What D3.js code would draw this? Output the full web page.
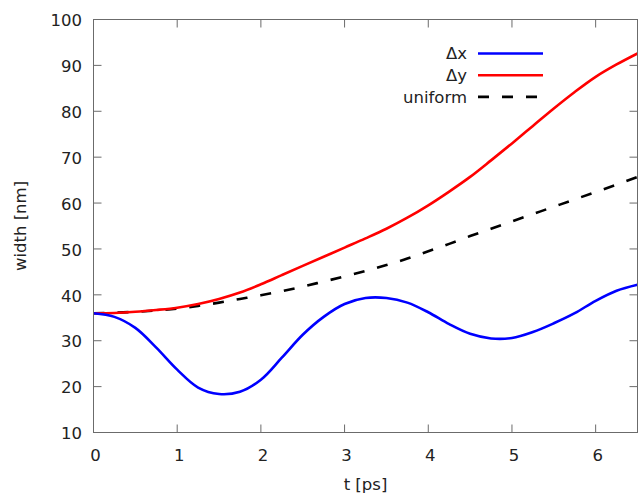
<!DOCTYPE html>
<html>
<head>
<meta charset="utf-8">
<script src="https://cdn.jsdelivr.net/npm/d3@7"></script>
<style>
  body { margin: 0; background: #fff; }
  text { font-family: "DejaVu Sans", sans-serif; fill: #222; }
</style>
</head>
<body>
<div id="chart"></div>
<script>
var margin = { top: 19.5, right: 3.5, bottom: 62.5, left: 93.5 };
var width = 641, height = 495;

// time axis (ps)
var times = [0, 0.25, 0.5, 0.75, 1, 1.25, 1.5, 1.75, 2, 2.25, 2.5, 2.75, 3, 3.25,
             3.5, 3.75, 4, 4.25, 4.5, 4.75, 5, 5.25, 5.5, 5.75, 6, 6.25, 6.5];
var dx = [36.0, 35.2, 32.8, 28.5, 23.7, 19.8, 18.4, 18.9, 21.5, 26.3, 31.3, 35.2, 38.0, 39.3,
          39.3, 38.3, 36.2, 33.6, 31.5, 30.5, 30.6, 31.9, 33.8, 36.0, 38.7, 40.9, 42.2];
var dy = [36.0, 36.05, 36.3, 36.7, 37.2, 38.0, 39.1, 40.5, 42.3, 44.3, 46.3, 48.3, 50.3, 52.3,
          54.4, 56.8, 59.5, 62.5, 65.7, 69.3, 73.0, 76.8, 80.6, 84.2, 87.5, 90.2, 92.6];
var uniform = [36.0, 36.1, 36.3, 36.6, 37.0, 37.6, 38.3, 39.1, 39.9, 40.8, 41.8, 42.9, 44.0, 45.2,
               46.5, 47.9, 49.5, 51.1, 52.8, 54.4, 56.0, 57.6, 59.2, 60.8, 62.4, 64.0, 65.7];

var xTicks = [0, 1, 2, 3, 4, 5, 6];
var yTicks = [10, 20, 30, 40, 50, 60, 70, 80, 90, 100];

var series = [
    { name: "\u0394x", values: dx, color: "#0000ff", dash: null },
    { name: "\u0394y", values: dy, color: "#ff0000", dash: null },
    { name: "uniform", values: uniform, color: "#000000", dash: "11,13" }
];

var svg = d3.select("#chart").append("svg")
    .attr("width", width)
    .attr("height", height);

var x = d3.scaleLinear().domain([0, 6.5]).range([margin.left, width - margin.right]);
var y = d3.scaleLinear().domain([10, 100]).range([height - margin.bottom, margin.top]);

var axisColor = "#6b6b6b";
var tickLen = 8;

svg.append("defs").append("clipPath").attr("id", "clip")
  .append("rect")
    .attr("x", x(0)).attr("y", y(100))
    .attr("width", x(6.5) - x(0)).attr("height", y(10) - y(100));

// ticks, mirrored on all sides (inward)
svg.selectAll(".xtick")
    .data(xTicks)
    .enter().append("path")
    .attr("d", function(d) {
        return "M" + x(d) + "," + y(10) + "v" + (-tickLen) +
               "M" + x(d) + "," + y(100) + "v" + tickLen;
    })
    .attr("stroke", axisColor).attr("stroke-width", 1).attr("fill", "none");

svg.selectAll(".ytick")
    .data(yTicks)
    .enter().append("path")
    .attr("d", function(d) {
        return "M" + x(0) + "," + y(d) + "h" + tickLen +
               "M" + x(6.5) + "," + y(d) + "h" + (-tickLen);
    })
    .attr("stroke", axisColor).attr("stroke-width", 1).attr("fill", "none");

svg.selectAll(".xlabel")
    .data(xTicks)
    .enter().append("text")
    .attr("x", function(d) { return x(d) + 2; })
    .attr("y", 460.5)
    .attr("text-anchor", "middle")
    .style("font-size", "16.5px")
    .text(function(d) { return d; });

svg.selectAll(".ylabel")
    .data(yTicks)
    .enter().append("text")
    .attr("x", 82)
    .attr("y", function(d) { return y(d) + 1; })
    .attr("dy", "0.35em")
    .attr("text-anchor", "end")
    .style("font-size", "16.5px")
    .text(function(d) { return d; });

// curves
var line = d3.line()
    .x(function(d, i) { return x(times[i]); })
    .y(function(d) { return y(d); })
    .curve(d3.curveCatmullRom);

var plot = svg.append("g").attr("clip-path", "url(#clip)");

// uniform first so the solid curves sit on top of it
[series[2], series[1], series[0]].forEach(function(s) {
    plot.append("path")
        .datum(s.values)
        .attr("d", line)
        .attr("fill", "none")
        .attr("stroke", s.color)
        .attr("stroke-width", 2.6)
        .attr("stroke-dasharray", s.dash);
});

// border
svg.append("rect")
    .attr("x", x(0)).attr("y", y(100))
    .attr("width", x(6.5) - x(0)).attr("height", y(10) - y(100))
    .attr("fill", "none").attr("stroke", axisColor).attr("stroke-width", 1);

// legend
var legend = svg.selectAll(".legend")
    .data(series)
    .enter().append("g")
    .attr("transform", function(d, i) { return "translate(0," + (53.5 + i * 21.7) + ")"; });

legend.append("text")
    .attr("x", 467)
    .attr("dy", "0.35em")
    .attr("text-anchor", "end")
    .style("font-size", "16.5px")
    .text(function(d) { return d.name; });

legend.append("line")
    .attr("x1", 478).attr("x2", 543)
    .attr("stroke", function(d) { return d.color; })
    .attr("stroke-width", 2.6)
    .attr("stroke-dasharray", function(d) { return d.dash; });

// axis titles
svg.append("text")
    .attr("transform", "translate(26," + ((y(10) + y(100)) / 2) + ")rotate(-90)")
    .attr("text-anchor", "middle")
    .style("font-size", "16.5px")
    .text("width [nm]");

svg.append("text")
    .attr("x", (x(0) + x(6.5)) / 2)
    .attr("y", 490)
    .attr("text-anchor", "middle")
    .style("font-size", "16.5px")
    .text("t [ps]");
</script>
</body>
</html>
